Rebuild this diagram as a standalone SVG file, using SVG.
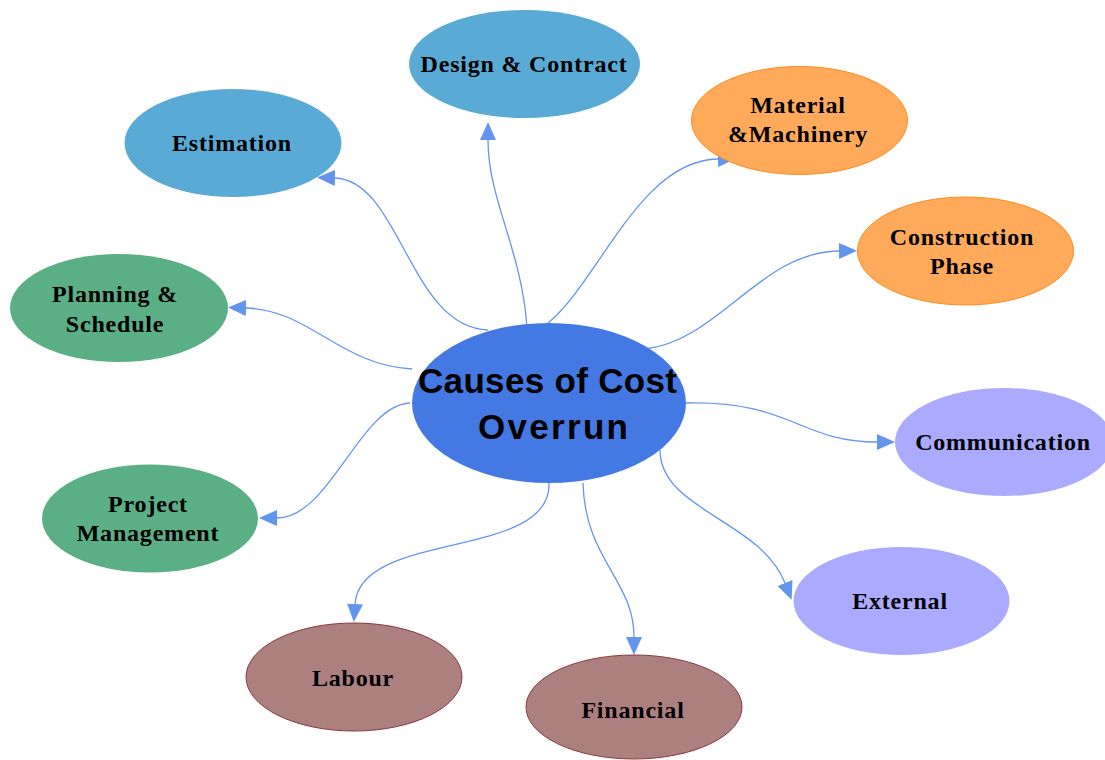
<svg xmlns="http://www.w3.org/2000/svg" width="1105" height="760" viewBox="0 0 1105 760">
<style>
.lbl{font-family:"Liberation Serif","Times New Roman",serif;font-weight:bold;font-size:24px;letter-spacing:0.8px;fill:#000;text-anchor:middle}
.ctr{font-family:"Liberation Sans",Arial,sans-serif;font-weight:bold;font-size:35px;fill:#000}
.edge{fill:none;stroke:#6495ED;stroke-width:1.3}
.blue{fill:#5AAAD6}
.green{fill:#5BAF84}
.orange{fill:#FFAA5A;stroke:#FF8C1A;stroke-width:1}
.lav{fill:#AAAAFF}
.brown{fill:#AD8080;stroke:#8B3A3A;stroke-width:1}
</style>
<defs>
<marker id="arr" markerUnits="userSpaceOnUse" markerWidth="18" markerHeight="16" refX="0" refY="8" orient="auto">
<path d="M0,0 L18,8 L0,16 z" fill="#6495ED"/>
</marker>
</defs>
<rect width="1105" height="760" fill="#fff"/>
<g id="connectors">
<path class="edge" marker-end="url(#arr)" d="M488 330 C410 328 400 180 335 178"/>
<path class="edge" marker-end="url(#arr)" d="M527 328 C522 250 488 200 488 140"/>
<path class="edge" marker-end="url(#arr)" d="M548 323 C600 280 640 160 718 159"/>
<path class="edge" marker-end="url(#arr)" d="M645 349 C720 340 760 252 839 251"/>
<path class="edge" marker-end="url(#arr)" d="M412 369 C340 365 310 310 246 308"/>
<path class="edge" marker-end="url(#arr)" d="M410 403 C360 405 330 518 277 518"/>
<path class="edge" marker-end="url(#arr)" d="M685 403 C790 400 800 442 877 442"/>
<path class="edge" marker-end="url(#arr)" d="M660 450 C660 510 760 520 785 583"/>
<path class="edge" marker-end="url(#arr)" d="M549 483 C552 560 360 530 355 604"/>
<path class="edge" marker-end="url(#arr)" d="M583 483 C585 560 634 580 634 637"/>
</g>
<g id="center">
<ellipse cx="549" cy="403" rx="137" ry="80" fill="#4479E3"/>
<text class="ctr" x="418" y="393" textLength="259" lengthAdjust="spacing">Causes of Cost</text>
<text class="ctr" x="478" y="439" textLength="150" lengthAdjust="spacing">Overrun</text>
</g>
<g id="design">
<ellipse class="blue" cx="524.5" cy="64" rx="115.5" ry="54"/>
<text class="lbl" x="524" y="72">Design &amp; Contract</text>
</g>
<g id="estimation">
<ellipse class="blue" cx="233" cy="143" rx="108.5" ry="54"/>
<text class="lbl" x="232" y="151">Estimation</text>
</g>
<g id="material">
<ellipse class="orange" cx="799.5" cy="120.5" rx="108" ry="54"/>
<text class="lbl" x="798" y="113">Material</text>
<text class="lbl" x="798" y="142">&amp;Machinery</text>
</g>
<g id="construction">
<ellipse class="orange" cx="965.5" cy="251" rx="108" ry="54"/>
<text class="lbl" x="962" y="245">Construction</text>
<text class="lbl" x="962" y="274">Phase</text>
</g>
<g id="planning">
<ellipse class="green" cx="119" cy="308" rx="109" ry="54"/>
<text class="lbl" x="115" y="302">Planning &amp;</text>
<text class="lbl" x="115" y="332">Schedule</text>
</g>
<g id="communication">
<ellipse class="lav" cx="1004" cy="442" rx="109" ry="54"/>
<text class="lbl" x="1003" y="450">Communication</text>
</g>
<g id="project">
<ellipse class="green" cx="150" cy="518.5" rx="108" ry="54"/>
<text class="lbl" x="148" y="512">Project</text>
<text class="lbl" x="148" y="541">Management</text>
</g>
<g id="external">
<ellipse class="lav" cx="901.5" cy="601" rx="108" ry="54"/>
<text class="lbl" x="900" y="609">External</text>
</g>
<g id="labour">
<ellipse class="brown" cx="354" cy="677" rx="108" ry="54"/>
<text class="lbl" x="353" y="686">Labour</text>
</g>
<g id="financial">
<ellipse class="brown" cx="634" cy="707" rx="108" ry="52"/>
<text class="lbl" x="633" y="718">Financial</text>
</g>
</svg>
